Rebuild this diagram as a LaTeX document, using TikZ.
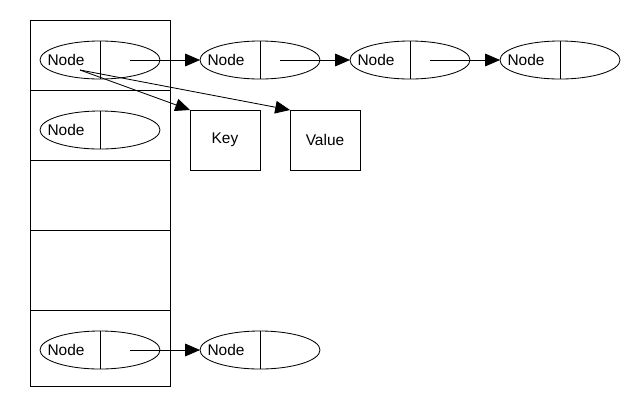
\documentclass[tikz,border=0pt]{standalone}
\usepackage{fontspec}
\setmainfont{Liberation Sans}
\usetikzlibrary{shapes.geometric,arrows.meta}

\begin{document}
\begin{tikzpicture}[x=0.025cm,y=-0.025cm,line width=0.6pt,cell/.style={shape=ellipse,draw=black,minimum width=3cm,minimum height=0.95cm,inner sep=0pt,outer sep=0pt},cellT/.style={inner sep=0pt,font=\fontsize{11}{13}\selectfont},box/.style={shape=rectangle,draw=black,minimum width=1.75cm,minimum height=1.5cm,inner sep=0pt,outer sep=0pt,font=\fontsize{11}{13}\selectfont},link/.style={-{Triangle[length=10.5pt,width=9pt]}}]
\def\dxt{34};
\def\dxp{0.75cm};
\def\dxq{0.5cm};

\useasboundingbox (0,0) rectangle (640,410);

% hash table
\draw (30,20) rectangle (170,386);
\foreach \y in {90,160,230,310} \draw (30,\y) -- (171,\y);

% list cells
\foreach \n/\x/\y in {A/100/60,B/260/60,C/410/60,D/560/60,E/100/130,F/100/350,G/260/350} {
  \node[cell] (\n) at (\x,\y) {};
  \node[cellT] (\n t) at (\x-\dxt,\y) {Node};
  \draw (\n.north) -- (\n.south);
}

\node[box] (key) at (225,140) {Key};
\node[box] (val) at (325,140) {Value};

\draw[link] ([xshift=\dxp]A.center) -- (B.west);
\draw[link] ([xshift=\dxq]B.center) -- (C.west);
\draw[link] ([xshift=\dxq]C.center) -- (D.west);
\draw[link] ([xshift=\dxp]F.center) -- (G.west);

\coordinate (src) at (80,70);
\draw[link] (src) -- (key.north west);
\draw[link] (src) -- (val.north west);

\end{tikzpicture}
\end{document}
